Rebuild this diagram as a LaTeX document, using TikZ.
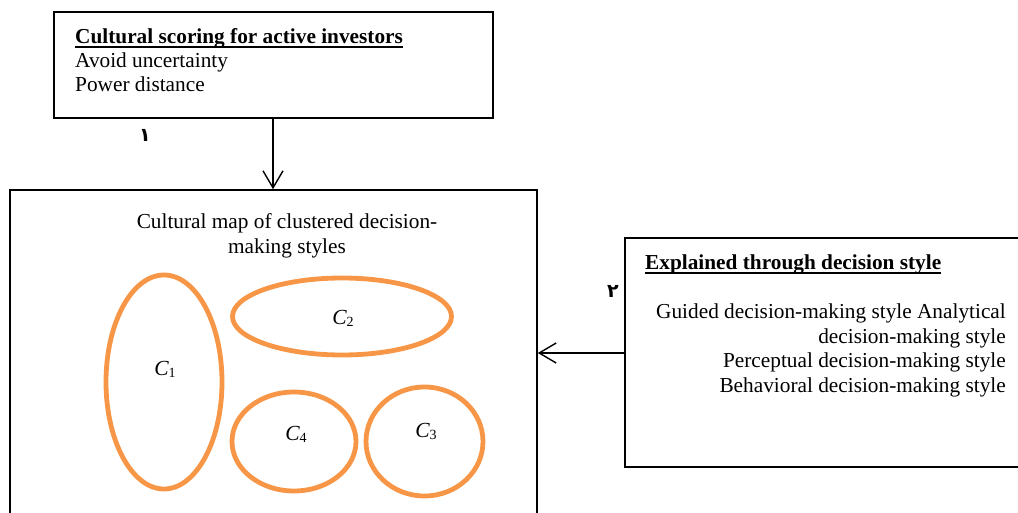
\documentclass[tikz,border=0pt]{standalone}
\usepackage{fontspec}
\setmainfont{Liberation Serif}
\newfontfamily\arabicfont[Script=Arabic]{DejaVu Sans}
\usetikzlibrary{arrows.meta,shapes.geometric}
\definecolor{clorange}{HTML}{F79646}
\TeXXeTstate=1
\begin{document}
\begin{tikzpicture}[x=1pt,y=-1pt,
  box/.style={draw=black,line width=1.6pt,rectangle,inner sep=0pt},
  txt/.style={font=\fontsize{21.3}{24}\selectfont,inner sep=0pt},
  uline/.style={line width=1.6pt},
  cluster/.style={draw=clorange,line width=4.8pt,ellipse,inner sep=0pt},
  conn/.style={line width=1.4pt,-{Straight Barb[length=17pt,width=20pt,line width=1.4pt]}},
  clab/.style={font=\fontsize{21.5}{24}\selectfont\itshape,inner sep=0pt},
  ardig/.style={font=\arabicfont\bfseries\fontsize{19}{20}\selectfont,inner sep=0pt}
]
\useasboundingbox (0,0) rectangle (1018,513);
\clip (0,0) rectangle (1018,513);
% top box
\node[box,minimum width=439pt,minimum height=106pt] (top) at (273.5,65) {};
\node[txt,anchor=base west] (t1) at (75,44) {\textbf{Cultural scoring for active investors}};
\draw[uline] ([yshift=-3pt]t1.base west) -- ([yshift=-3pt]t1.base east);
\node[txt,anchor=base west] (t2) at (75,68) {Avoid uncertainty};
\node[txt,anchor=base west] (t3) at (75,92) {Power distance};
% main box
\node[box,minimum width=527pt,minimum height=400pt] (main) at (273.5,390) {};
\node[txt,anchor=base] (m1) at (287,229) {Cultural map of clustered decision-};
\node[txt,anchor=base] (m2) at (287,254) {making styles};
% clusters
\node[cluster,minimum width=116pt,minimum height=214pt] (c1) at (164,382) {};
\node[cluster,minimum width=219pt,minimum height=77pt] (c2) at (342,316.5) {};
\node[cluster,minimum width=124pt,minimum height=99pt] (c4) at (294,441.5) {};
\node[cluster,minimum width=117pt,minimum height=109pt] (c3) at (424.5,441.5) {};
\node[clab] (l1) at (165,369) {C\raisebox{-2pt}{\upshape\fontsize{14}{14}\selectfont 1}};
\node[clab] (l2) at (343,318) {C\raisebox{-2pt}{\upshape\fontsize{14}{14}\selectfont 2}};
\node[clab] (l4) at (296,434) {C\raisebox{-2pt}{\upshape\fontsize{14}{14}\selectfont 4}};
\node[clab] (l3) at (426,431) {C\raisebox{-2pt}{\upshape\fontsize{14}{14}\selectfont 3}};
% right box
\node[box,minimum width=420pt,minimum height=229pt] (right) at (835,352.5) {};
\node[txt,anchor=base west] (r0) at (645,270) {\textbf{Explained through decision style}};
\draw[uline] ([yshift=-3pt]r0.base west) -- ([yshift=-3pt]r0.base east);
\node[txt,anchor=base east] (r1) at (1006,319) {Guided decision-making style Analytical};
\node[txt,anchor=base east] (r2) at (1006,343) {decision-making style};
\node[txt,anchor=base east] (r3) at (1006,367) {Perceptual decision-making style};
\node[txt,anchor=base east] (r4) at (1006,392) {Behavioral decision-making style};
% arabic digits
\node[ardig] (d1) at (145,135) {\beginR ١\endR};
\node[ardig] (d2) at (613,291) {\beginR ٢\endR};
% connectors
\draw[conn] (top.south -| 273,0) -- (main.north -| 273,0);
\draw[conn] (right.west |- 0,353) -- (main.east |- 0,353);
\end{tikzpicture}
\end{document}
